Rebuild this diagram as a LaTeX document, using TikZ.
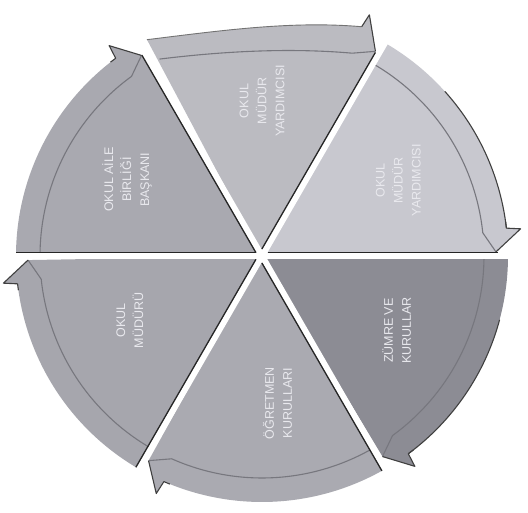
\documentclass[tikz,border=0pt]{standalone}
\usepackage{fontspec}
\setmainfont{Liberation Sans}
\definecolor{secUR}{HTML}{C8C8CF}
\definecolor{secT}{HTML}{BBBBC1}
\definecolor{secUL}{HTML}{A9A9B0}
\definecolor{secLL}{HTML}{A6A6AD}
\definecolor{secB}{HTML}{AAAAB1}
\definecolor{secLR}{HTML}{8C8C94}
\definecolor{arcdark}{HTML}{77777E}
\definecolor{txtc}{HTML}{E9E9EE}
\begin{document}
\begin{tikzpicture}[x=1pt,y=1pt,
  lbl/.style={text=txtc, align=center, rotate=90, inner sep=0pt,
    font={\fontsize{12.5}{18}\selectfont}},
  innerarc/.style={draw=arcdark, line width=1.1pt},
  gapline/.style={draw=white, line width=6pt},
  shadowline/.style={draw=black!85, line width=1.3pt},
  rimline/.style={draw=black!75, line width=1.1pt, line join=round}]
\useasboundingbox (0,0) rectangle (528,513);
\fill[white] (0,0) rectangle (528,513);
\begin{scope}[shift={(262,257)}]
\coordinate (C) at (0,0);
\def\R{246}
\def\Rin{222}
% sector: #1 = arrow end angle a0, #2 = other end a1, #3 = colour
\newcommand\segshape[3]{%
  \fill[#3] (0,0) -- (#2:\R) arc[start angle=#2, end angle=#1+6.5, radius=\R]
     -- (#1+6:\R+14) -- (#1+1:\R-12) -- cycle;
  \draw[innerarc] (#1+1:\R-12) -- (#1+6:\Rin)
     arc[start angle=#1+6, end angle=#2-0.5, radius=\Rin];
  \draw[rimline] (#1+8:\R) arc[start angle=#1+8, end angle=#1+6.5, radius=\R]
     -- (#1+6:\R+14) -- (#1+1:\R-12);
}
\segshape{0}{60}{secUR}
% top sector: its outer edge is flatter in the reference
\fill[secT] (0,0) -- (118:245) .. controls +(7:75) and +(175:70) .. (66.5:250)
   -- (66:264) -- (61:234) -- cycle;
\draw[innerarc] (61:234) -- (66:222) .. controls +(175:62) and +(7:66) .. (117.5:222);
\draw[draw=black!55, line width=0.9pt] (118:245) .. controls +(7:75) and +(175:70) .. (66.5:250);
\draw[rimline] (66.5:250) -- (66:264) -- (61:234);
\segshape{120}{180}{secUL}
\segshape{180}{240}{secLL}
\segshape{240}{300}{secB}
\segshape{300}{360}{secLR}
% dark rims on the right side
\draw[rimline] (42:\R) arc[start angle=42, end angle=6.5, radius=\R];
\draw[rimline] (345:\R) arc[start angle=345, end angle=306.5, radius=\R];
% white gaps
\draw[gapline] (0:275) -- (180:275);
\draw[gapline] (60:275) -- (240:275);
\draw[gapline] (120:275) -- (300:275);
% shadow lines on one side of each gap
\draw[shadowline, shift={(90:3.6)}] (0:236) -- (0:6);
\draw[shadowline, shift={(90:3.6)}] (180:6) -- (180:\R);
\draw[shadowline, shift={(150:3.6)}] (60:233) -- (60:6);
\draw[shadowline, shift={(150:3.6)}] (240:6) -- (240:\R);
\draw[shadowline, shift={(210:3.6)}] (120:234) -- (120:6);
\draw[shadowline, shift={(210:3.6)}] (300:6) -- (300:\R);
% labels
\node[lbl] (tT)  at (90:155)  {OKUL\\MÜDÜR\\YARDIMCISI};
\node[lbl] (tUR) at (29:156)  {OKUL\\MÜDÜR\\YARDIMCISI};
\node[lbl] (tUL) at (150.5:155) {OKUL AİLE\\BİRLİĞİ\\BAŞKANI};
\node[lbl] (tLL) at (206:147) {OKUL\\MÜDÜRÜ};
\node[lbl] (tB)  at (276:148) {ÖĞRETMEN\\KURULLARI};
\node[lbl] (tLR) at (331:154) {ZÜMRE VE\\KURULLAR};
\end{scope}
\end{tikzpicture}
\end{document}
